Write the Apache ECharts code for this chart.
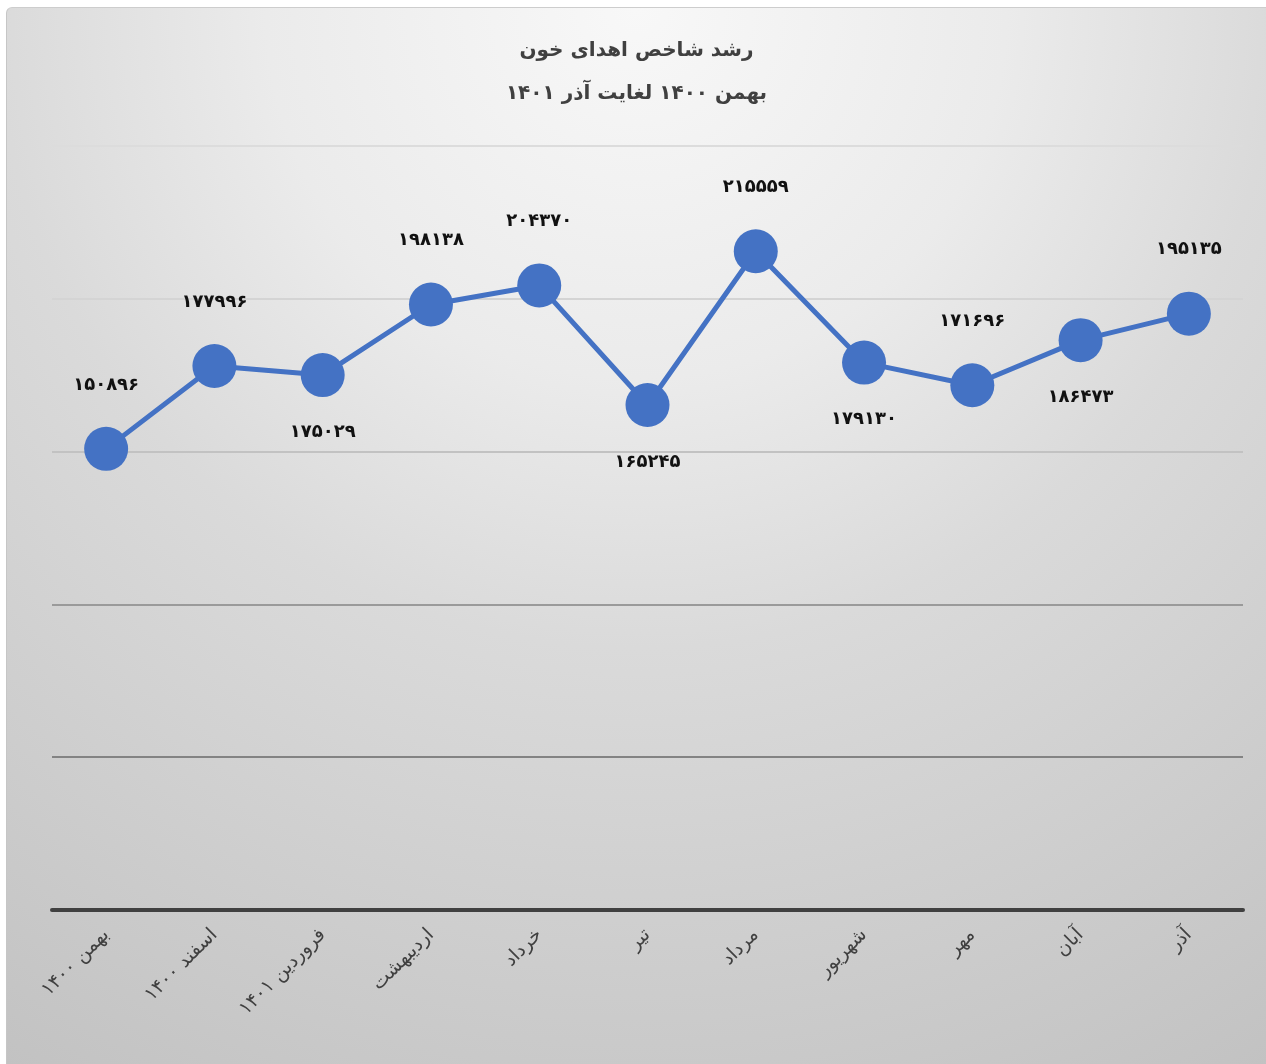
<!DOCTYPE html>
<html>
<head>
<meta charset="utf-8">
<script src="https://cdn.jsdelivr.net/npm/echarts@6/dist/echarts.min.js"></script>
<style>
    html, body {margin: 0; padding: 0; background: #ffffff; overflow: hidden;}
    #main {
        position: absolute;
        left: 6px;
        top: 7px;
        width: 1260px;
        height: 1057px;
        box-sizing: border-box;
        border-left: 1px solid #c6c6c6;
        border-top: 1px solid #cdcdcd;
        border-top-left-radius: 6px;
        background: radial-gradient(circle at 50% 0%, #f8f8f8 0px, #ebebeb 370px, #dadada 640px, #c9c9c9 1060px, #c0c0c0 1280px);
    }
</style>
</head>
<body>
<div id="main"></div>
<script>
    // ماه‌ها
    const months = ['بهمن ۱۴۰۰', 'اسفند ۱۴۰۰', 'فروردین ۱۴۰۱', 'اردیبهشت', 'خرداد', 'تیر', 'مرداد', 'شهریور', 'مهر', 'آبان', 'آذر'];
    // تعداد اهدا
    const donations = [150896, 177996, 175029, 198138, 204370, 165245, 215559, 179130, 171696, 186473, 195135];
    // جای برچسب هر نقطه
    const labelSide = ['top', 'top', 'bottom', 'top', 'top', 'bottom', 'top', 'bottom', 'top', 'bottom', 'top'];

    const FONT = '"DejaVu Sans", sans-serif';
    const toFa = v => String(v).replace(/\d/g, d => '۰۱۲۳۴۵۶۷۸۹'[d]);

    const chart = echarts.init(document.getElementById('main'));

    const option = {
        backgroundColor: 'transparent',
        animation: false,
        title: [
            {
                text: 'رشد شاخص اهدای خون',
                left: 'center',
                top: 28,
                textStyle: {fontFamily: FONT, fontSize: 20, fontWeight: 'bold', color: '#404040'}
            },
            {
                text: 'بهمن ۱۴۰۰ لغایت آذر ۱۴۰۱',
                left: 'center',
                top: 71,
                textStyle: {fontFamily: FONT, fontSize: 20, fontWeight: 'bold', color: '#404040'}
            }
        ],
        grid: {
            left: 45,
            right: 23,
            top: 138,
            bottom: 154,
            containLabel: false
        },
        xAxis: {
            type: 'category',
            data: months,
            boundaryGap: true,
            axisLine: {lineStyle: {color: '#404040', width: 4}},
            axisTick: {show: false},
            axisLabel: {
                rotate: 45,
                margin: 22,
                color: '#404040',
                fontSize: 19,
                fontFamily: FONT
            }
        },
        yAxis: {
            type: 'value',
            min: 0,
            max: 250000,
            interval: 50000,
            axisLine: {show: false},
            axisTick: {show: false},
            axisLabel: {show: false},
            splitLine: {
                lineStyle: {
                    width: 2,
                    color: ['#404040', '#838383', '#9a9a9a', '#c2c2c2', '#d4d4d4', '#dcdcdc']
                }
            }
        },
        series: [{
            type: 'line',
            data: donations.map((v, i) => ({
                value: v,
                label: {position: labelSide[i], distance: labelSide[i] === 'top' ? 33 : 26}
            })),
            symbol: 'circle',
            symbolSize: 44,
            itemStyle: {color: '#4472c4'},
            lineStyle: {color: '#4472c4', width: 5},
            label: {
                show: true,
                color: '#111111',
                fontSize: 18,
                fontWeight: 'bold',
                fontFamily: FONT,
                formatter: p => toFa(p.value)
            }
        }]
    };

    chart.setOption(option);
</script>
</body>
</html>
